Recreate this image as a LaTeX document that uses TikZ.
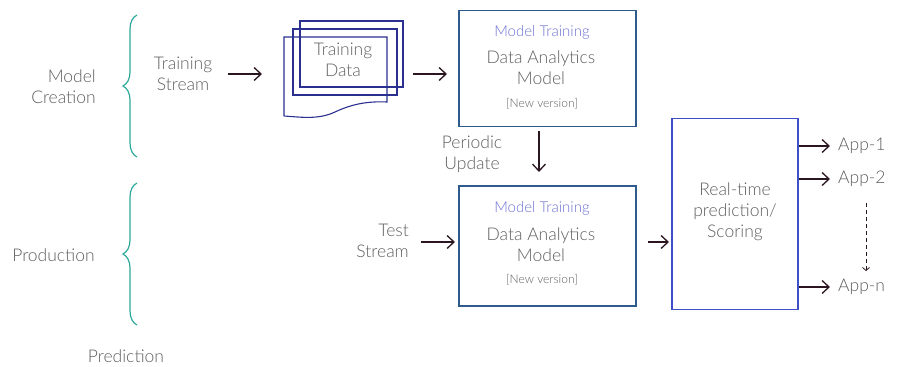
\documentclass[tikz,border=0pt]{standalone}
\usepackage{fontspec}
\setmainfont{Lato Light}
\usetikzlibrary{arrows.meta,decorations.pathreplacing}
\definecolor{txt}{HTML}{5E5E5E}
\definecolor{teal}{HTML}{2BA89A}
\definecolor{navy}{HTML}{2B3090}
\definecolor{steel}{HTML}{2F5A8C}
\definecolor{rtblue}{HTML}{3F4FC8}
\definecolor{arr}{HTML}{2A1520}
\definecolor{mtblue}{HTML}{6B72D0}
\tikzset{
  lbl/.style={text=txt,font=\fontsize{17.5}{21}\selectfont,align=center,inner sep=0pt},
  smalllbl/.style={text=txt,font=\fontsize{12}{14}\selectfont,inner sep=0pt},
  mtlbl/.style={text=mtblue,font=\fontsize{15}{17}\selectfont,inner sep=0pt},
  modelbox/.style={draw=steel,line width=1.2pt,minimum width=177pt,minimum height=116pt,inner sep=0pt},
  rtbox/.style={draw=rtblue,line width=1.2pt,minimum width=126pt,minimum height=191pt,inner sep=0pt},
  docrect/.style={draw=navy,line width=1.1pt},
  conn/.style={draw=arr,line width=1.3pt,-{Straight Barb[length=7pt,width=13pt,line width=1.3pt]}},
  dconn/.style={draw=arr,line width=0.8pt,dashed,dash pattern=on 4pt off 3pt,-{Straight Barb[length=3pt,width=7pt]}},
  brc/.style={draw=teal,line width=1.2pt,decorate,decoration={brace,amplitude=14pt,aspect=0.5}}
}
\begin{document}
\begin{tikzpicture}[x=1pt,y=-1pt]
\useasboundingbox (0,0) rectangle (898,367);
% braces
\draw[brc] (137,157) -- (137,15);
\draw[brc] (137,325) -- (137,183);
\node[lbl,align=right,anchor=east] (mc) at (96,87) {Model\\Creation};
\node[lbl,anchor=east] (prod) at (95,255) {Production};
\node[lbl] (pred) at (126,356) {Prediction};
% training stream
\node[lbl] (ts) at (183,74) {Training\\Stream};
% training data documents
\draw[docrect] (300,21) rectangle (403,87);
\draw[docrect] (293,29) rectangle (397,95);
\draw[docrect] (284,116) -- (284,37) -- (387,37) -- (387,102)
  .. controls (365,101) and (350,105) .. (335,112)
  .. controls (318,120) and (300,117) .. (284,116);
\node[lbl] (td) at (343,60) {Training\\Data};
% top model box
\node[modelbox] (m1) at (547.5,68.5) {};
\node[mtlbl] (m1a) at (542,32) {Model Training};
\node[lbl] (m1b) at (541,68) {Data Analytics\\Model};
\node[smalllbl] (m1c) at (542,104) {[New version]};
% periodic update
\node[lbl] (pu) at (472,154) {Periodic\\Update};
% bottom model box
\node[modelbox,minimum height=120pt] (m2) at (547.5,246) {};
\node[mtlbl] (m2a) at (542,208) {Model Training};
\node[lbl] (m2b) at (541,244.5) {Data Analytics\\Model};
\node[smalllbl] (m2c) at (542,280) {[New version]};
% test stream
\node[lbl,align=right,anchor=east] (tst) at (409,241) {Test\\Stream};
% real-time box
\node[rtbox] (rt) at (735,214) {};
\node[lbl] (rtl) at (735,212) {Real-time\\prediction/\\Scoring};
% apps
\node[lbl,anchor=west,inner xsep=8pt] (a1) at (830,146) {App-1};
\node[lbl,anchor=west,inner xsep=8pt] (a2) at (830,179) {App-2};
\node[lbl,anchor=west,inner xsep=8pt] (an) at (830,287) {App-n};
% connectors
\draw[conn] (228,74) -- (262,74);
\draw[conn] (413,74) -- (447,74);
\draw[conn] (539,131) -- (539,172);
\draw[conn] (421,242) -- (455,242);
\draw[conn] (648,242) -- (669,242);
\draw[conn] (rt.east |- a1) -- (a1.west);
\draw[conn] (rt.east |- a2) -- (a2.west);
\draw[conn] (rt.east |- an) -- (an.west);
\draw[dconn] (866,203) -- (866,271);
\end{tikzpicture}
\end{document}
